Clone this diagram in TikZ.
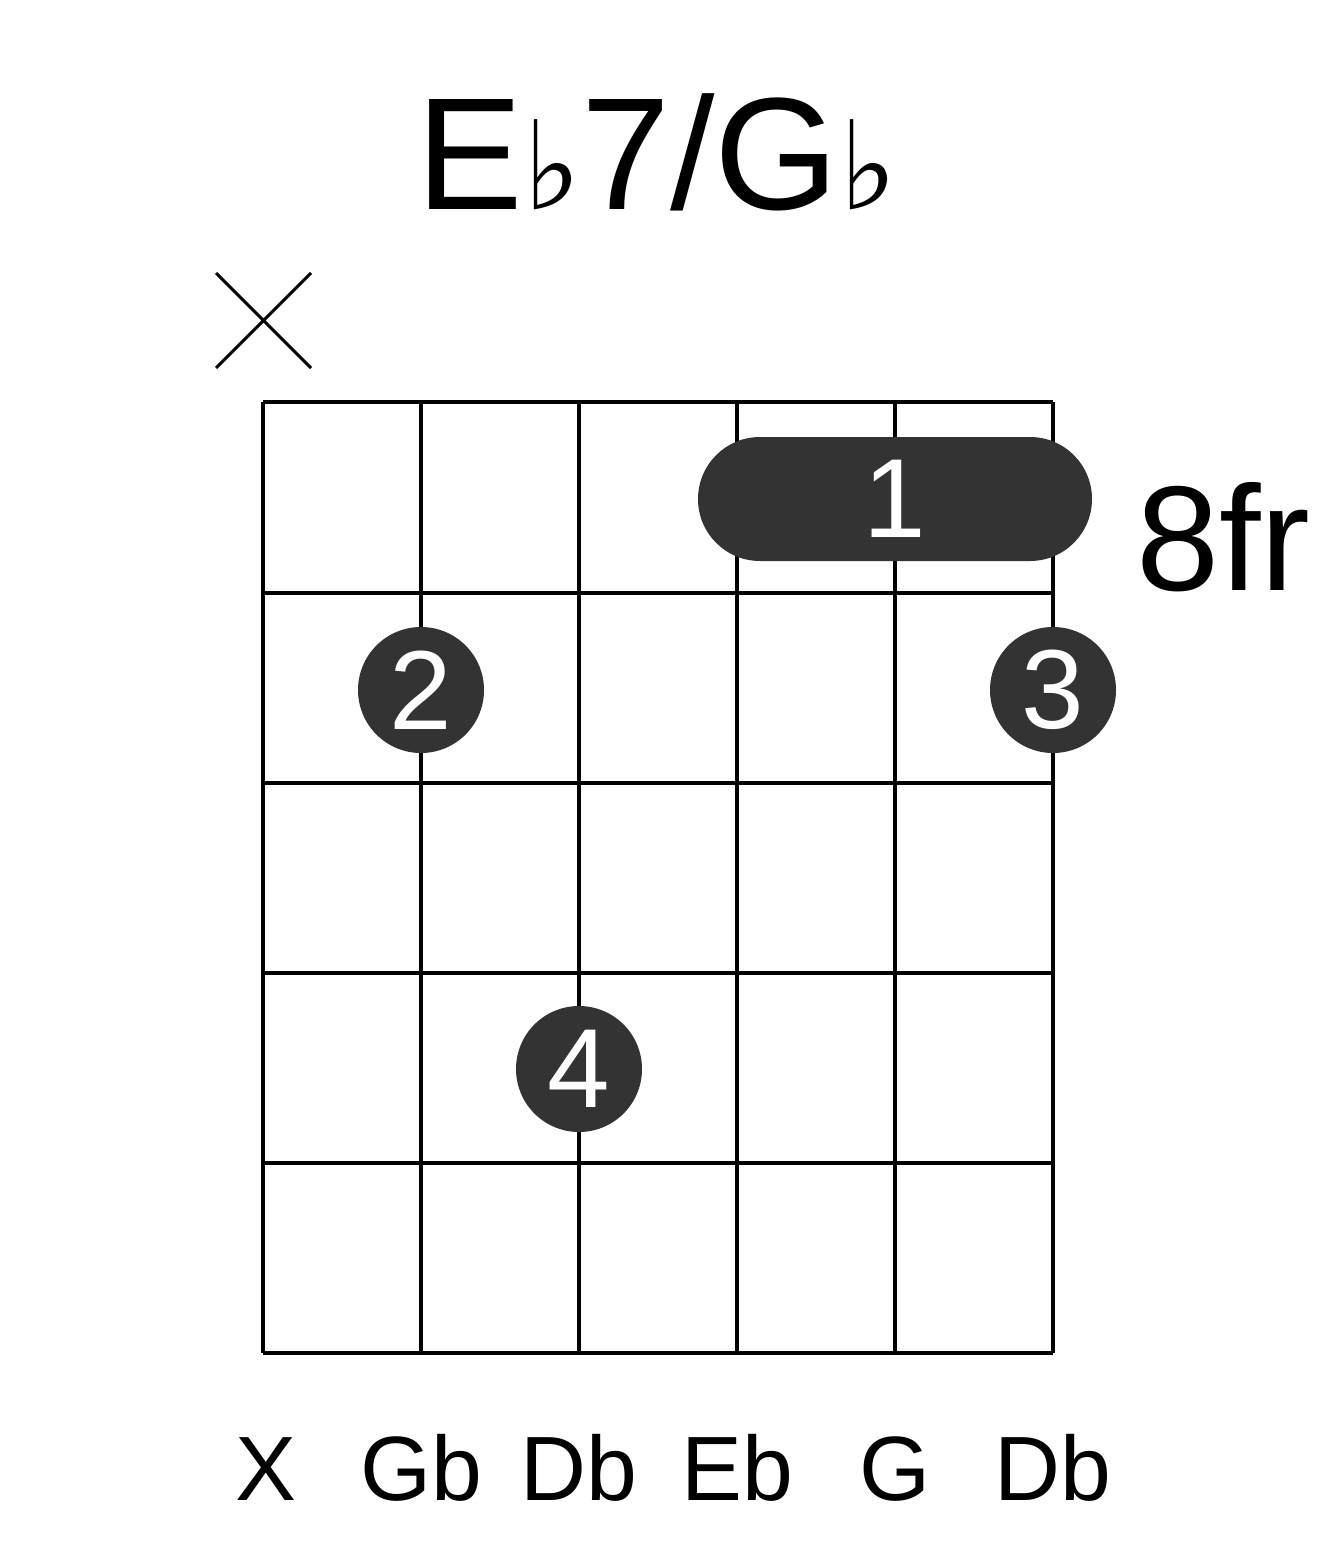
\documentclass[tikz,border=0pt]{standalone}
\usepackage{fontspec}
\setmainfont{Liberation Sans}
\newfontfamily\symf{DejaVu Serif}
\definecolor{dot}{HTML}{333333}
\begin{document}
\begin{tikzpicture}[x=0.02cm,y=-0.02cm,
  grid/.style={line width=2.3pt,black},
  fing/.style={circle,fill=dot,minimum size=126*0.02cm,inner sep=0pt,text=white,font=\fontsize{64}{64}\selectfont},
  lab/.style={font=\fontsize{52}{52}\selectfont,anchor=base}]
\useasboundingbox (0,0) rectangle (1317,1551);
\foreach \y in {402,593,783,973,1163,1353} \draw[grid] (263,\y) -- (1053,\y);
\foreach \x in {263,421,579,737,895,1053} \draw[grid] (\x,402) -- (\x,1353);
\fill[dot,rounded corners=62*0.02cm] (698,437) rectangle (1092,561);
\node[text=white,font=\fontsize{64}{64}\selectfont] (b1) at (895,499) {1};
\node[fing] (f2) at (421,690) {2};
\node[fing] (f3) at (1053,690) {3};
\node[fing] (f4) at (579,1069) {4};
\draw[line width=1.8pt] (216,273) -- (311,368) (216,368) -- (311,273);
\node[font=\fontsize{91}{91}\selectfont,anchor=base] (t) at (657,210) {E{\symf\fontsize{70}{70}\selectfont\raisebox{0pt}{♭}}7/G{\symf\fontsize{70}{70}\selectfont ♭}};
\node[font=\fontsize{85}{85}\selectfont,anchor=base west] (fr) at (1130,590) {8fr};
\foreach \x/\t in {266/X,421/Gb,579/Db,737/Eb,895/G,1053/Db} \node[lab] at (\x,1500) {\t};
\end{tikzpicture}
\end{document}
